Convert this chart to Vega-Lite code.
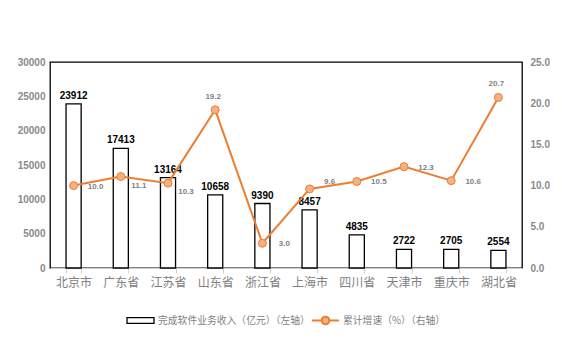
{
  "$schema": "https://vega.github.io/schema/vega-lite/v6.json",
  "width": 472,
  "height": 206,
  "autosize": {"type": "none"},
  "padding": {"left": 50, "top": 62, "right": 40, "bottom": 78},
  "background": "white",
  "config": {
    "view": {"stroke": "#000000", "strokeWidth": 1.3},
    "font": "Noto Sans CJK SC"
  },
  "data": {
    "values": [
      {"city": "北京市", "rev": 23912, "g": 10.0},
      {"city": "广东省", "rev": 17413, "g": 11.1},
      {"city": "江苏省", "rev": 13164, "g": 10.3},
      {"city": "山东省", "rev": 10658, "g": 19.2},
      {"city": "浙江省", "rev": 9390, "g": 3.0},
      {"city": "上海市", "rev": 8457, "g": 9.6},
      {"city": "四川省", "rev": 4835, "g": 10.5},
      {"city": "天津市", "rev": 2722, "g": 12.3},
      {"city": "重庆市", "rev": 2705, "g": 10.6},
      {"city": "湖北省", "rev": 2554, "g": 20.7}
    ]
  },
  "encoding": {
    "x": {
      "field": "city", "type": "nominal", "sort": null,
      "scale": {"paddingInner": 0.68, "paddingOuter": 0.34},
      "axis": {
        "title": null, "labelAngle": 0, "labelFontSize": 12, "labelColor": "#808080",
        "labelFont": "Noto Sans CJK SC", "labelPadding": 4,
        "domainColor": "#d0d0d0", "tickColor": "#d0d0d0", "tickBand": "extent", "tickSize": 5
      }
    }
  },
  "layer": [
    {
      "encoding": {
        "y": {
          "field": "rev", "type": "quantitative",
          "scale": {"domain": [0, 30000]},
          "axis": {
            "title": null, "orient": "left", "values": [0, 5000, 10000, 15000, 20000, 25000, 30000], "format": "d",
            "grid": false, "domain": false, "ticks": false, "labelPadding": 5,
            "labelFont": "Liberation Sans", "labelFontWeight": "bold", "labelFontSize": 10, "labelColor": "#8a8a8a"
          }
        }
      },
      "layer": [
        {
          "mark": {"type": "bar", "stroke": "#000000", "strokeWidth": 1.3},
          "encoding": {
            "fill": {
              "datum": "完成软件业务收入（亿元）（左轴）",
              "scale": {"range": ["#ffffff"]},
              "legend": {
                "title": null, "orient": "none", "legendX": 76, "legendY": 244,
                "symbolType": "M-1,-0.22H1V0.22H-1Z", "symbolSize": 729,
                "symbolStrokeColor": "#000000", "symbolStrokeWidth": 1.3,
                "labelFont": "Noto Sans CJK SC", "labelFontSize": 9.8, "labelColor": "#7f7f7f",
                "labelOffset": 3
              }
            }
          }
        },
        {
          "mark": {"type": "text", "dy": -8, "font": "Liberation Sans", "fontWeight": "bold", "fontSize": 10, "color": "#000000"},
          "encoding": {"text": {"field": "rev", "type": "quantitative", "format": "d"}}
        }
      ]
    },
    {
      "encoding": {
        "y": {
          "field": "g", "type": "quantitative",
          "scale": {"domain": [0, 25]},
          "axis": {
            "title": null, "orient": "right", "values": [0, 5, 10, 15, 20, 25], "format": ".1f",
            "grid": false, "domain": false, "ticks": false, "labelPadding": 8,
            "labelFont": "Liberation Sans", "labelFontWeight": "bold", "labelFontSize": 10, "labelColor": "#8a8a8a"
          }
        }
      },
      "layer": [
        {
          "mark": {"type": "line", "strokeWidth": 2},
          "encoding": {
            "stroke": {
              "datum": "累计增速（%）（右轴）",
              "scale": {"range": ["#ED7D31"]},
              "legend": {
                "title": null, "orient": "none", "legendX": 261, "legendY": 244,
                "symbolType": "M-1,0H-0.28M0.28,0H1M-0.28,0A0.28,0.28 0 1,1 0.28,0A0.28,0.28 0 1,1 -0.28,0Z",
                "symbolSize": 729, "symbolStrokeWidth": 2, "symbolFillColor": "#F4B183",
                "labelFont": "Noto Sans CJK SC", "labelFontSize": 9.8, "labelColor": "#7f7f7f",
                "labelOffset": 3
              }
            }
          }
        },
        {
          "mark": {"type": "point", "filled": true, "fill": "#F4B183", "stroke": "#ED7D31", "strokeWidth": 1, "size": 64, "opacity": 1}
        },
        {
          "transform": [{"filter": {"field": "city", "oneOf": ["北京市", "浙江省", "四川省", "天津市", "重庆市"]}}],
          "mark": {"type": "text", "dx": 22, "dy": 1, "font": "Liberation Sans", "fontWeight": "bold", "fontSize": 8, "color": "#7f7f7f"},
          "encoding": {"text": {"field": "g", "type": "quantitative", "format": ".1f"}}
        },
        {
          "transform": [{"filter": {"field": "city", "oneOf": ["广东省", "江苏省"]}}],
          "mark": {"type": "text", "dx": 18, "dy": 9, "font": "Liberation Sans", "fontWeight": "bold", "fontSize": 8, "color": "#7f7f7f"},
          "encoding": {"text": {"field": "g", "type": "quantitative", "format": ".1f"}}
        },
        {
          "transform": [{"filter": {"field": "city", "oneOf": ["上海市"]}}],
          "mark": {"type": "text", "dx": 20, "dy": -7, "font": "Liberation Sans", "fontWeight": "bold", "fontSize": 8, "color": "#7f7f7f"},
          "encoding": {"text": {"field": "g", "type": "quantitative", "format": ".1f"}}
        },
        {
          "transform": [{"filter": {"field": "city", "oneOf": ["山东省", "湖北省"]}}],
          "mark": {"type": "text", "dx": -2, "dy": -13, "font": "Liberation Sans", "fontWeight": "bold", "fontSize": 8, "color": "#7f7f7f"},
          "encoding": {"text": {"field": "g", "type": "quantitative", "format": ".1f"}}
        }
      ]
    }
  ],
  "resolve": {"scale": {"y": "independent", "fill": "independent", "stroke": "independent"}}
}
